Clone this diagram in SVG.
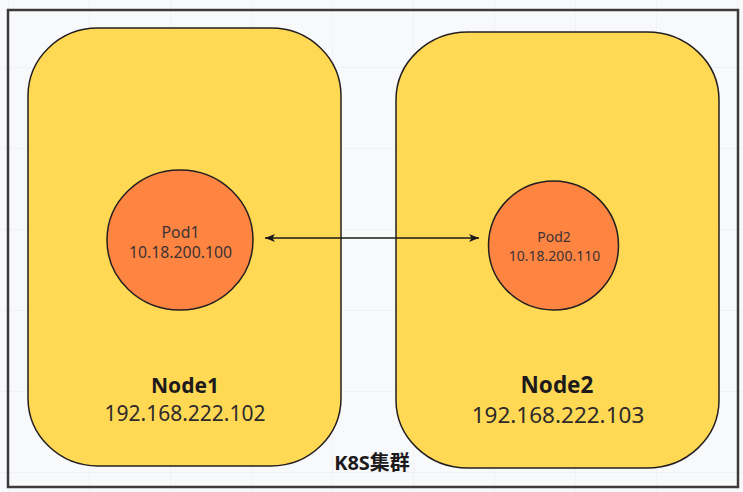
<svg xmlns="http://www.w3.org/2000/svg" width="743" height="492" viewBox="0 0 743 492">
<defs>
<pattern id="grid" x="8" y="-14" width="81" height="81" patternUnits="userSpaceOnUse">
<path d="M0 0 H81 M0 0 V81" fill="none" stroke="#e9ebee" stroke-width="1"/>
</pattern>
<marker id="ah" viewBox="0 0 10 10" refX="10" refY="5" markerWidth="10" markerHeight="10" markerUnits="userSpaceOnUse" orient="auto-start-reverse">
<path d="M0 1 L10 5 L0 9 L2.5 5 Z" fill="#1a1a1a"/>
</marker>
<style>
.node{fill:#ffd954;stroke:#231f20;stroke-width:1.5}
.pod{fill:#fe8442;stroke:#231f20;stroke-width:1.5}
.t{font-family:"Noto Sans","Open Sans","Noto Sans CJK SC",sans-serif;text-anchor:middle}
.b{font-weight:bold;fill:#1d1a1c}
.n{fill:#2e2a2b}
.p{fill:#3b3334}
</style>
</defs>
<rect width="743" height="492" fill="#f8f9fb"/>
<rect width="743" height="492" fill="url(#grid)"/>
<g id="cluster">
<rect x="8" y="10" width="730" height="477" fill="none" stroke="#3e3a3c" stroke-width="2.5"/>
<text class="t b" x="372" y="470" font-size="20">K8S集群</text>
</g>
<g id="node1">
<rect class="node" x="28" y="28" width="313" height="438" rx="70" ry="68"/>
<text class="t b" x="185" y="393" font-size="21">Node1</text>
<text class="t n" x="185" y="421" font-size="21">192.168.222.102</text>
</g>
<g id="node2">
<rect class="node" x="396" y="32" width="323" height="436" rx="72" ry="68"/>
<text class="t b" x="557" y="393" font-size="22.5">Node2</text>
<text class="t n" x="558" y="423" font-size="22.5">192.168.222.103</text>
</g>
<g id="pod1">
<ellipse class="pod" cx="180" cy="240" rx="73" ry="70"/>
<text class="t p" x="180.5" y="238" font-size="15.8">Pod1</text>
<text class="t p" x="180.5" y="258" font-size="15.8">10.18.200.100</text>
</g>
<g id="pod2">
<ellipse class="pod" cx="553.5" cy="245.5" rx="65" ry="64.5"/>
<text class="t p" x="554" y="242" font-size="14">Pod2</text>
<text class="t p" x="554.5" y="261" font-size="14">10.18.200.110</text>
</g>
<g id="connectors">
<line x1="265" y1="238" x2="479" y2="238" stroke="#1a1a1a" stroke-width="1.5" marker-start="url(#ah)" marker-end="url(#ah)"/>
</g>
</svg>
